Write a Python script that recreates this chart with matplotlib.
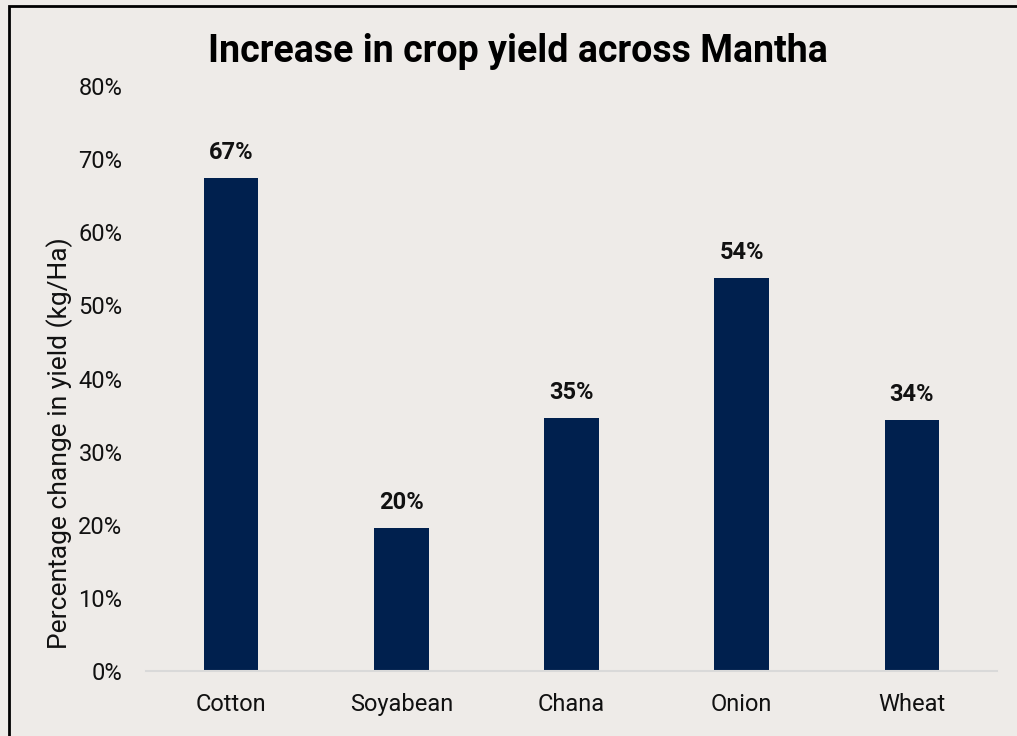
import matplotlib.pyplot as plt
from matplotlib.patches import Rectangle
from matplotlib.ticker import PercentFormatter

# dati
crops = ["Cotton", "Soyabean", "Chana", "Onion", "Wheat"]
yield_change = [67.4, 19.6, 34.6, 53.8, 34.3]
value_labels = ["67%", "20%", "35%", "54%", "34%"]

bg = "#EEEBE8"
bar_color = "#00204E"

plt.rcParams["font.family"] = ["Roboto", "DejaVu Sans"]

fig = plt.figure(figsize=(10.17, 7.36), dpi=100, facecolor=bg)
ax = fig.add_axes([146 / 1017, 1 - 671 / 736, (997 - 146) / 1017, (671 - 86) / 736])
ax.set_facecolor(bg)

x = range(len(crops))
bars = ax.bar(x, yield_change, width=0.32, color=bar_color)

for b, lab in zip(bars, value_labels):
    ax.annotate(lab, (b.get_x() + b.get_width() / 2, b.get_height()),
                xytext=(0, 10), textcoords="offset points",
                ha="center", va="bottom", fontsize=17, fontweight="bold", color="#111111")

ax.set_xlim(-0.5, len(crops) - 0.5)
ax.set_ylim(0, 80)
ax.set_yticks(range(0, 81, 10))
ax.yaxis.set_major_formatter(PercentFormatter(decimals=0))
ax.set_xticks(list(x))
ax.set_xticklabels(crops)
ax.tick_params(axis="both", length=0, labelsize=17, colors="#111111")
ax.tick_params(axis="y", pad=17)
ax.tick_params(axis="x", pad=16)

for s in ["top", "right", "left"]:
    ax.spines[s].set_visible(False)
ax.spines["bottom"].set_color("#D9D9D9")
ax.spines["bottom"].set_linewidth(1.5)

# etichetta asse y, un po' spostata verso il basso come nell'originale
fig.text(60 / 1017, 1 - 443 / 736, "Percentage change in yield (kg/Ha)",
         rotation=90, ha="center", va="center", fontsize=19, color="#111111")

fig.text(518 / 1017, 1 - 51 / 736, "Increase in crop yield across Mantha",
         ha="center", va="center", fontsize=27, fontweight="bold", color="#000000")

# bordo nero (solo sinistra e sopra visibili)
fig.patches.append(Rectangle((9 / 1017, -0.1), 1.2, 1 - 6 / 736 + 0.1,
                             transform=fig.transFigure, fill=False,
                             edgecolor="black", linewidth=2))

fig.savefig("out.png", dpi=100, facecolor=bg)
